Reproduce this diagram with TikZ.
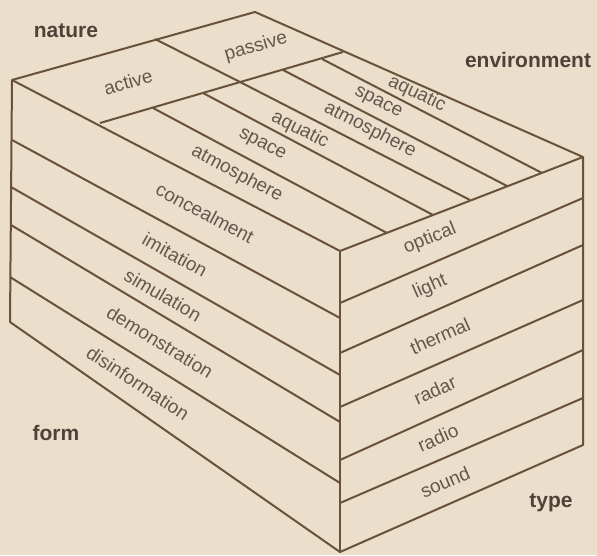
\documentclass[tikz,border=0pt]{standalone}
\usepackage{fontspec}
\setmainfont{Liberation Sans}

\begin{document}
\begin{tikzpicture}[x=0.5pt,y=-0.5pt]

    % Colors for the paper, the edges and the texts
    \definecolor{paper}{RGB}{235,222,202}
    \definecolor{edge}{RGB}{105,82,58}
    \definecolor{ink}{RGB}{100,88,78}
    \definecolor{titleink}{RGB}{80,66,56}

    \tikzset{
        edgeline/.style={draw=edge, line width=1pt, line join=round},
        bandlabel/.style={text=ink, font=\fontsize{9.5}{11}\selectfont, inner sep=0pt},
        axislabel/.style={text=titleink, font=\fontsize{10.5}{12}\selectfont\bfseries, inner sep=0pt, anchor=base}
    }

    % Paper
    \fill[paper] (0,0) rectangle (597,555);
    \useasboundingbox (0,0) rectangle (597,555);

    % Corners of the block
    \coordinate (L) at (12,80);
    \coordinate (B) at (255,12);
    \coordinate (R) at (583,157);
    \coordinate (F) at (340,251);
    \coordinate (Lb) at (10,322);
    \coordinate (Fb) at (340,552);
    \coordinate (Rb) at (583,445);

    % Top face: nature split and environment strips
    \coordinate (N1) at (155,39);
    \coordinate (N0) at (100,123);
    \coordinate (N6) at (343,52);
    \coordinate (E1) at (153,108);
    \coordinate (E2) at (203,93);
    \coordinate (E3) at (240,82);
    \coordinate (E4) at (283,70);
    \coordinate (E5) at (322,59);
    \coordinate (G1) at (387,233);
    \coordinate (G2) at (433,215);
    \coordinate (G3) at (470,200);
    \coordinate (G4) at (507,186);
    \coordinate (G5) at (542,173);

    % Left face: form strips
    \coordinate (L1) at (12,140);
    \coordinate (L2) at (11,187);
    \coordinate (L3) at (11,225);
    \coordinate (L4) at (10,277);
    \coordinate (P1) at (340,318);
    \coordinate (P2) at (340,375);
    \coordinate (P3) at (340,422);
    \coordinate (P4) at (340,483);

    % Right face: type strips
    \coordinate (Q1) at (340,303);
    \coordinate (Q2) at (340,353);
    \coordinate (Q3) at (340,407);
    \coordinate (Q4) at (340,460);
    \coordinate (Q5) at (340,503);
    \coordinate (S1) at (583,198);
    \coordinate (S2) at (583,245);
    \coordinate (S3) at (583,300);
    \coordinate (S4) at (583,350);
    \coordinate (S5) at (583,398);

    % Outline
    \draw[edgeline] (L) -- (B) -- (R) -- (Rb) -- (Fb) -- (Lb) -- cycle;
    \draw[edgeline] (L) -- (F) -- (R);
    \draw[edgeline] (F) -- (Fb);

    % Top face lines
    \draw[edgeline] (N0) -- (N6);
    \draw[edgeline] (N1) -- (E3) -- (G3);
    \draw[edgeline] (E1) -- (G1);
    \draw[edgeline] (E2) -- (G2);
    \draw[edgeline] (E4) -- (G4);
    \draw[edgeline] (E5) -- (G5);

    % Left face lines
    \draw[edgeline] (L1) -- (P1);
    \draw[edgeline] (L2) -- (P2);
    \draw[edgeline] (L3) -- (P3);
    \draw[edgeline] (L4) -- (P4);

    % Right face lines
    \draw[edgeline] (Q1) -- (S1);
    \draw[edgeline] (Q2) -- (S2);
    \draw[edgeline] (Q3) -- (S3);
    \draw[edgeline] (Q4) -- (S4);
    \draw[edgeline] (Q5) -- (S5);

    % Axis names
    \node[axislabel] (nature) at (66,38) {nature};
    \node[axislabel] (environment) at (528,68) {environment};
    \node[axislabel] (form) at (56,440) {form};
    \node[axislabel] (type) at (551,507) {type};

    % Nature labels
    \node[bandlabel, rotate=16] (active) at (128,82) {active};
    \node[bandlabel, rotate=16] (passive) at (256,47) {passive};

    % Environment labels, active side
    \node[bandlabel, rotate=-28] (actatmo) at (237,174) {atmosphere};
    \node[bandlabel, rotate=-27.5] (actspace) at (262,145) {space};
    \node[bandlabel, rotate=-27] (actaqua) at (300,130) {aquatic};

    % Environment labels, passive side
    \node[bandlabel, rotate=-27] (pasatmo) at (370,130) {atmosphere};
    \node[bandlabel, rotate=-27] (passpace) at (378,103) {space};
    \node[bandlabel, rotate=-25.5] (pasaqua) at (417,94) {aquatic};

    % Form labels
    \node[bandlabel, rotate=-28] (concealment) at (205,213) {concealment};
    \node[bandlabel, rotate=-29] (imitation) at (175,255) {imitation};
    \node[bandlabel, rotate=-30.3] (simulation) at (163,295) {simulation};
    \node[bandlabel, rotate=-31.5] (demonstration) at (160,342) {demonstration};
    \node[bandlabel, rotate=-33.4] (disinformation) at (138,383) {disinformation};

    % Type labels
    \node[bandlabel, rotate=22.3] (optical) at (430,239) {optical};
    \node[bandlabel, rotate=23.7] (light) at (430,287) {light};
    \node[bandlabel, rotate=23.9] (thermal) at (440,336) {thermal};
    \node[bandlabel, rotate=24.2] (radar) at (435,390) {radar};
    \node[bandlabel, rotate=23.8] (radio) at (438,438) {radio};
    \node[bandlabel, rotate=23.6] (sound) at (445,482) {sound};

\end{tikzpicture}
\end{document}
